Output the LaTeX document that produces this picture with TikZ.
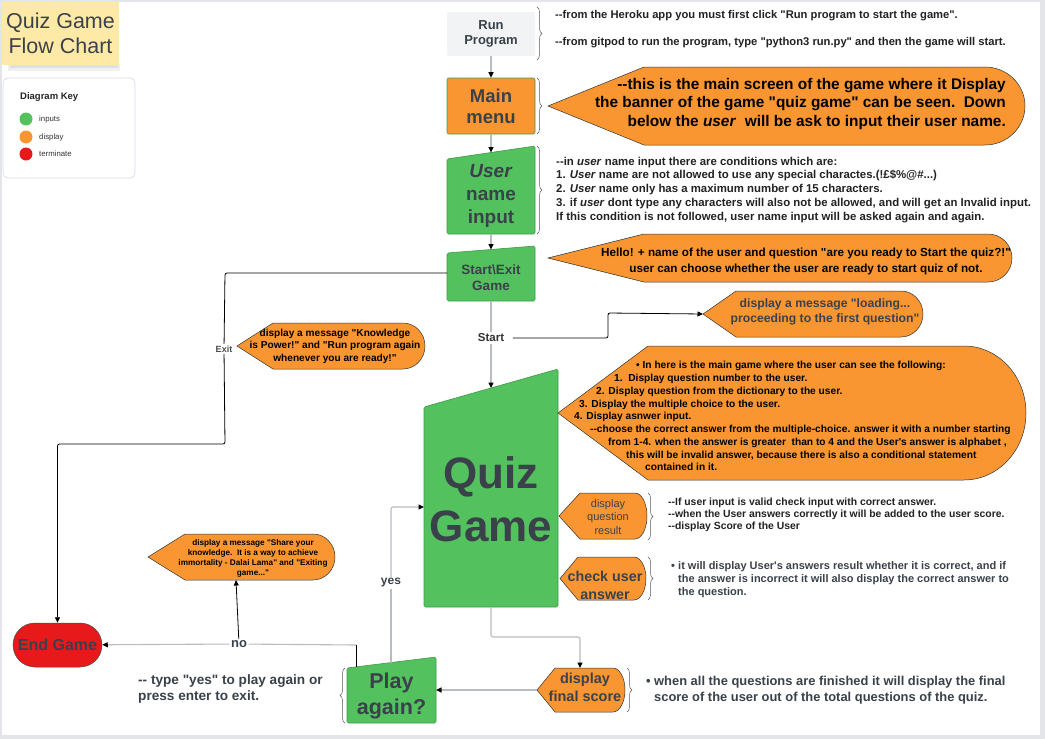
\documentclass[tikz,border=0pt]{standalone}
\usepackage{fontspec}
\setmainfont{Liberation Sans}[Ligatures=TeXOff]
\usetikzlibrary{arrows.meta,decorations.pathreplacing,calc}
\definecolor{gfill}{HTML}{53C25E}
\definecolor{gline}{HTML}{3E9B49}
\definecolor{ofill}{HTML}{FA9632}
\definecolor{rfill}{HTML}{E8191A}
\definecolor{txt}{HTML}{3A414A}
\definecolor{conn}{HTML}{B8BBC0}
\definecolor{yel}{HTML}{FFE9A6}
\definecolor{runf}{HTML}{F2F3F5}
\definecolor{keyb}{HTML}{D8DCE3}
\definecolor{bgg}{HTML}{E4E5E8}
\definecolor{dk}{HTML}{222222}
\newcommand\fsz[2]{\fontsize{#1}{#2}\selectfont}
\newcommand\dhy{-\kern0pt-}
\newcommand\calloutpath[6]{(#1,#2) -- (#3,{#2-#5}) -- ({#4-#6},{#2-#5}) .. controls ({#4-0.448*#6},{#2-#5}) and (#4,{#2-0.552*#5}) .. (#4,#2) .. controls (#4,{#2+0.552*#5}) and ({#4-0.448*#6},{#2+#5}) .. ({#4-#6},{#2+#5}) -- (#3,{#2+#5}) -- cycle}
\tikzset{
 gshape/.style={fill=gfill, draw=gline, line width=0.6pt, rounded corners=1.5pt},
 oshape/.style={fill=ofill, draw=black!80, line width=0.5pt},
 gconn/.style={draw=conn, line width=1.1pt, rounded corners=2pt},
 bconn/.style={draw=black, line width=0.8pt, rounded corners=2pt},
 arr/.style={-{Triangle[length=5.5pt,width=5pt,color=black]}},
 brc/.style={decorate, decoration={brace, amplitude=5pt}, draw=black!65, line width=0.5pt},
 ctext/.style={align=center, inner sep=0pt, text=txt},
 ann/.style={align=left, anchor=north west, inner sep=0pt, text=dk},
 lab/.style={inner sep=1.5pt, text=txt},
 keydot/.style={circle, minimum size=13pt, inner sep=0pt},
 keylab/.style={anchor=west, inner sep=0pt, font=\fsz{7.8}{9}, text=black!80},
}
\begin{document}
\begin{tikzpicture}[x=1pt,y=-1pt]
\useasboundingbox (0,0) rectangle (1045,739);
\fill[bgg] (0,0) rectangle (1045,739);
\fill[white] (2,2) rectangle (1040,735);

% title
\fill[black!6] (8,64) rectangle (120,71);
\fill[black!12] (10,64) rectangle (118,68);
\node[fill=yel, minimum width=117pt, minimum height=63pt, inner sep=0pt, align=center, font=\fsz{21.5}{25}, text=txt] (title) at (60.5,33.5) {Quiz Game\\Flow Chart};

% key
\node[draw=keyb, line width=0.7pt, rounded corners=5pt, minimum width=132pt, minimum height=100pt] (key) at (69,128) {};
\node[anchor=west, inner sep=0pt, font=\bfseries\fsz{9.5}{11}, text=black!85] (keyt) at (20,97) {Diagram Key};
\node[keydot, fill=gfill] (k1) at (26,119) {};
\node[keydot, fill=ofill] (k2) at (26,137) {};
\node[keydot, fill=rfill] (k3) at (26,154) {};
\node[keylab] (k1l) at (39,119) {inputs};
\node[keylab] (k2l) at (39,137) {display};
\node[keylab] (k3l) at (39,154) {terminate};

% main column
\node[fill=runf, rounded corners=2pt, minimum width=88pt, minimum height=44pt, ctext, font=\bfseries\fsz{13}{15}] (run) at (491,34) {Run\\Program};
\node[fill=ofill, draw=gline, line width=0.6pt, rounded corners=2pt, minimum width=88pt, minimum height=56pt, ctext, font=\bfseries\fsz{18.5}{21}] (main) at (491,106) {Main\\menu};

\draw[gshape] (447,159) -- (535,146) -- (535,234) -- (447,234) -- cycle;
\node[ctext, font=\bfseries\fsz{19}{23}] (uni) at (491,196) {\textit{User}\\name\\input};
\coordinate (uniT) at (491,152.5);
\coordinate (uniB) at (491,234);

\draw[gshape] (447,253) -- (535,246) -- (535,301) -- (447,301) -- cycle;
\node[ctext, font=\bfseries\fsz{13.5}{16}] (se) at (491,278) {Start\textbackslash Exit\\Game};
\coordinate (seT) at (491,249.5);
\coordinate (seB) at (491,301);
\coordinate (seL) at (447,273);

\draw[gshape] (424,407) -- (558,369) -- (558,607) -- (424,607) -- cycle;
\node[ctext, font=\bfseries\fsz{44}{53}] (quiz) at (491,499.5) {Quiz\\Game};
\coordinate (quizT) at (491,388);
\coordinate (quizB) at (491,607);
\coordinate (quizL) at (424,507);

\draw[gshape] (347,668) -- (436,657) -- (436,723) -- (347,723) -- cycle;
\node[ctext, font=\bfseries\fsz{21.5}{26}] (play) at (391.5,696) {Play\\again?};
\coordinate (playT) at (391,662.6);
\coordinate (playTL) at (356,667);
\coordinate (playR) at (436,690);

\node[fill=rfill, draw=black!70, line width=0.5pt, rounded corners=22pt, minimum width=89pt, minimum height=44pt, inner sep=0pt, font=\bfseries\fsz{16}{18}, text=txt] (endg) at (57.5,645) {End Game};

% callouts
\draw[oshape] \calloutpath{548}{106}{644}{1025}{39}{40};
\node[anchor=east, align=right, inner sep=0pt, font=\bfseries\fsz{15.4}{18.5}, text=black] (mainco) at (1006,104) {\dhy this is the main screen of the game where it Display\\the banner of the game "quiz game" can be seen.\ \ Down\\below the \textit{user}\ \ will be ask to input their user name.};

\draw[oshape] \calloutpath{548}{258}{644}{1012}{24}{24};
\node[align=center, inner sep=0pt, font=\bfseries\fsz{11.7}{16}, text=black] (startco) at (806,261) {Hello! + name of the user and question "are you ready to Start the quiz?!"\\user can choose whether the user are ready to start quiz of not.};

\draw[oshape] \calloutpath{703}{314}{736}{923}{23}{22};
\node[ctext, font=\bfseries\fsz{12.2}{15}] (loadco) at (825,311.5) {display a message "loading...\\proceeding to the first question"};
\coordinate (loadTip) at (703,314);

\draw[oshape] \calloutpath{237}{346}{273}{425}{23}{22};
\node[align=center, inner sep=0pt, font=\bfseries\fsz{10.1}{12.5}, text=black] (exitco) at (335,346) {display a message "Knowledge\\is Power!" and "Run program again\\whenever you are ready!"};

\draw[oshape] \calloutpath{558}{413}{648}{1026}{67}{62};
\node[ann, font=\bfseries\fsz{10.2}{12.75}, text=black] (quizco) at (574,361.2) {%
\hspace*{62pt}• In here is the main game where the user can see the following:\\
\hspace*{40pt}1.\ \ Display question number to the user.\\
\hspace*{22pt}2. Display question from the dictionary to the user.\\
\hspace*{5pt}3. Display the multiple choice to the user.\\
4. Display asnwer input.\\
\hspace*{16pt}\dhy choose the correct answer from the multiple-choice. answer it with a number starting\\
\hspace*{34pt}from 1-4. when the answer is greater\ \ than to 4 and the User's answer is alphabet ,\\
\hspace*{52pt}this will be invalid answer, because there is also a conditional statement\\
\hspace*{71pt}contained in it.};

\draw[oshape] \calloutpath{559}{516}{580}{647}{23}{12};
\node[ctext, font=\fsz{11}{13.5}] (dqr) at (608,517) {display\\question\\result};

\draw[oshape] \calloutpath{560}{578.5}{578}{646}{21.5}{12};
\node[ctext, font=\bfseries\fsz{14.3}{18}] (cua) at (605,585) {check user\\answer};

\draw[oshape] \calloutpath{537}{690}{555}{625}{22}{12};
\node[ctext, font=\bfseries\fsz{14.5}{18}] (dfs) at (585,687) {display\\final score};
\coordinate (dfsT) at (580,668);
\coordinate (dfsTip) at (537,690);

\draw[oshape] \calloutpath{148}{557}{185}{335}{23}{22};
\node[align=center, inner sep=0pt, font=\bfseries\fsz{8.2}{10}, text=black] (share) at (253,558) {display a message "Share your\\knowledge.\ \ It is a way to achieve\\immortality - Dalai Lama" and "Exiting\\game..."};
\coordinate (shareB) at (236,580);

% braces
\draw[brc] (537,7) -- (537,60);
\draw[brc] (537,78) -- (537,134);
\draw[brc] (537,146) -- (537,234);
\draw[brc] (648,493) -- (648,540);
\draw[brc] (648,557) -- (648,600);
\draw[brc] (627,668) -- (627,712);
\draw[brc] (345,723) -- (345,668);

% annotations
\node[anchor=west, inner sep=0pt, font=\bfseries\fsz{11.2}{13}, text=dk] (runa1) at (555,16) {\dhy from the Heroku app you must first click "Run program to start the game".};
\node[anchor=west, inner sep=0pt, font=\bfseries\fsz{11.2}{13}, text=dk] (runa2) at (555,43) {\dhy from gitpod to run the program, type "python3 run.py" and then the game will start.};
\node[ann, font=\bfseries\fsz{11.4}{13.7}] (usera) at (556,156.8) {\dhy in \textit{user} name input there are conditions which are:\\
1. \textit{User} name are not allowed to use any special charactes.(!£\$\%@\#...)\\
2. \textit{User} name only has a maximum number of 15 characters.\\
3. if \textit{user} dont type any characters will also not be allowed, and will get an Invalid input.\\
If this condition is not followed, user name input will be asked again and again.};
\node[ann, font=\bfseries\fsz{10.4}{12}] (dqra) at (668,498.2) {\dhy If user input is valid check input with correct answer.\\\dhy when the User answers correctly it will be added to the user score.\\\dhy display Score of the User};
\node[ann, font=\bfseries\fsz{11}{13}, text=txt] (cuaa) at (671,560.9) {\makebox[7pt][l]{•}it will display User's answers result whether it is correct, and if\\\hspace*{7pt}the answer is incorrect it will also display the correct answer to\\\hspace*{7pt}the question.};
\node[ann, font=\bfseries\fsz{12.9}{16}, text=txt] (dfsa) at (646,676.2) {\makebox[8pt][l]{•}when all the questions are finished it will display the final\\\hspace*{8pt}score of the user out of the total questions of the quiz.};
\node[ann, font=\bfseries\fsz{13.6}{16}, text=txt] (playa) at (138,674) {\dhy\ type "yes" to play again or\\press enter to exit.};

% labels
\node[lab, font=\bfseries\fsz{9}{10}, text=black!70] (exitl) at (224,349) {Exit};
\node[lab, font=\bfseries\fsz{11.5}{12}, text=black!80] (startl) at (491,338) {Start};
\node[lab, font=\bfseries\fsz{12}{13}] (yesl) at (391,583) {yes};
\node[lab, font=\bfseries\fsz{13}{14}] (nol) at (239,644) {no};

% coordinates for bends
\coordinate (exC1) at (225,273);
\coordinate (exC2) at (225,444);
\coordinate (exC3) at (57.5,444);
\coordinate (sl) at (608,313);
\coordinate (qd1) at (491,637);
\coordinate (noC) at (356,645);

% connectors
\draw[gconn, arr] (run) -- (main);
\draw[gconn, arr] (main) -- (uniT);
\draw[gconn, arr] (uniB) -- (seT);
\draw[gconn] (seB) -- (startl);
\draw[gconn, arr] (startl) -- (quizT);
\draw[bconn, arr] ([xshift=7pt]startl.east) -| (sl) -- (loadTip);
\draw[bconn] (seL) -- (exC1) -- (exitl);
\draw[bconn, arr] (exitl) -- (exC2) -- (exC3) -- (endg);
\draw[gconn, arr] (quizB) -- (qd1) -| (dfsT);
\draw[gconn, arr] (dfsTip) -- (playR);
\draw[gconn] (playT) -- (yesl);
\draw[gconn, arr] (yesl) |- (quizL);
\draw[bconn] (playTL) -- (noC);
\draw[gconn] (noC) -- (nol);
\draw[gconn, arr] (nol) -- (endg);
\draw[bconn, arr] (nol) -- (shareB);
\end{tikzpicture}
\end{document}
